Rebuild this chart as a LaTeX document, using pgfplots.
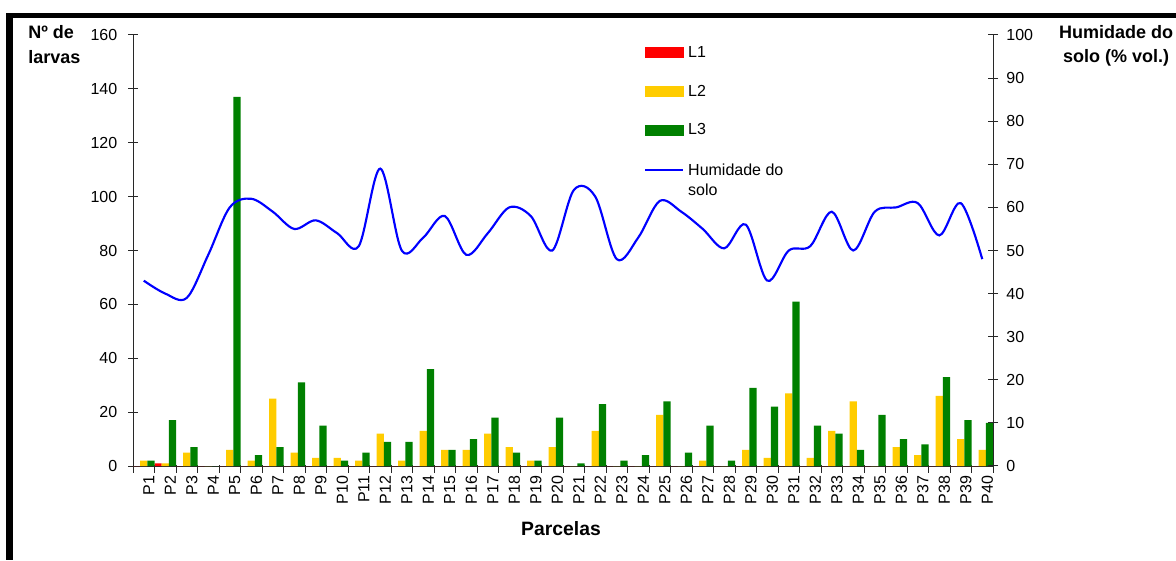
\documentclass[border=0pt]{standalone}
\usepackage{fontspec}
\setmainfont{Liberation Sans}
\usepackage{pgfplots}
\usepackage{pgfplotstable}
\pgfplotsset{compat=1.18}
\definecolor{cL1}{RGB}{255,0,0}
\definecolor{cL2}{RGB}{255,204,0}
\definecolor{cL3}{RGB}{0,128,0}
\definecolor{cH}{RGB}{0,0,255}
\definecolor{axc}{RGB}{40,40,40}

\pgfplotstableread{
x L1 L2 L3
1 0 2 2
2 1 1 17
3 0 5 7
4 0 0 0
5 0 6 137
6 0 2 4
7 0 25 7
8 0 5 31
9 0 3 15
10 0 3 2
11 0 2 5
12 0 12 9
13 0 2 9
14 0 13 36
15 0 6 6
16 0 6 10
17 0 12 18
18 0 7 5
19 0 2 2
20 0 7 18
21 0 0 1
22 0 13 23
23 0 0 2
24 0 0 4
25 0 19 24
26 0 0 5
27 0 2 15
28 0 0 2
29 0 6 29
30 0 3 22
31 0 27 61
32 0 3 15
33 0 13 12
34 0 24 6
35 0 0 19
36 0 7 10
37 0 4 8
38 0 26 33
39 0 10 17
40 0 6 16
}\bars

\pgfplotstableread{
x H
1 43
2 40
3 39
4 49
5 60
6 62
7 59
8 55
9 57
10 54
11 51
12 69
13 50
14 53
15 58
16 49
17 54
18 60
19 58
20 50
21 64
22 62.5
23 48
24 53
25 61.5
26 59
27 55
28 50.5
29 56
30 43
31 50
32 51
33 59
34 50
35 59
36 60
37 61
38 53.5
39 61
40 48
}\hum

\begin{document}
\begin{tikzpicture}[x=0.75pt,y=0.75pt]
\useasboundingbox (0,0) rectangle (1176,560);
\fill[white] (0,0) rectangle (1176,560);
\fill[black] (6,0) rectangle (12.7,547);
\fill[black] (6,542) rectangle (1176,547);

\begin{axis}[
  at={(99.75pt,70.5pt)}, anchor=south west,
  scale only axis, width=645pt, height=323.25pt,
  xmin=0.5, xmax=40.5, ymin=0, ymax=160,
  enlargelimits=false,
  axis x line*=bottom, axis y line*=left,
  axis line style={-, draw=axc, line width=0.75pt},
  ybar=0pt, bar width=5.375pt,
  xtick={1,...,40},
  xticklabels={P1,P2,P3,P4,P5,P6,P7,P8,P9,P10,P11,P12,P13,P14,P15,P16,P17,P18,P19,P20,P21,P22,P23,P24,P25,P26,P27,P28,P29,P30,P31,P32,P33,P34,P35,P36,P37,P38,P39,P40},
  major x tick style={draw=none},
  minor xtick={0.5,1.5,...,40.5},
  minor x tick style={draw=axc, line width=0.75pt, yshift=-2pt},
  minor tick length=6pt,
  ytick={0,20,...,160},
  major tick length=7.5pt,
  tick align=center,
  ytick style={draw=axc, line width=0.75pt},
  /pgf/number format/assume math mode=true,
  ticklabel style={font=\fontsize{12}{13}\selectfont},
  xticklabel style={rotate=90, anchor=east, yshift=-3.75pt},
  yticklabel style={xshift=-4.5pt},
  clip=false,
]
\addplot[fill=cL1, draw=none] table[x=x,y=L1]{\bars};
\addplot[fill=cL2, draw=none] table[x=x,y=L2]{\bars};
\addplot[fill=cL3, draw=none] table[x=x,y=L3]{\bars};
\end{axis}

\begin{axis}[
  at={(99.75pt,70.5pt)}, anchor=south west,
  scale only axis, width=645pt, height=323.25pt,
  xmin=0.5, xmax=40.5, ymin=0, ymax=100,
  enlargelimits=false,
  axis x line=none, axis y line*=right,
  axis line style={-, draw=axc, line width=0.75pt},
  ytick={0,10,...,100},
  major tick length=7.5pt,
  tick align=center,
  ytick style={draw=axc, line width=0.75pt},
  /pgf/number format/assume math mode=true,
  ticklabel style={font=\fontsize{12}{13}\selectfont},
  yticklabel style={xshift=2.75pt},
  clip=false,
  legend cell align=left,
  legend style={draw=none, fill=none, at={(axis description cs:0.5941,0.9745)}, anchor=north west,
    inner sep=0pt, row sep=19.2pt, column sep=3pt,
    nodes={inner sep=0pt}, font=\fontsize{12}{14.5}\selectfont},
]
\addlegendimage{legend image code/.code={\fill[cL1] (0pt,-3.75pt) rectangle (28.5pt,3.75pt);}}
\addlegendentry{L1}
\addlegendimage{legend image code/.code={\fill[cL2] (0pt,-3.75pt) rectangle (28.5pt,3.75pt);}}
\addlegendentry{L2}
\addlegendimage{legend image code/.code={\fill[cL3] (0pt,-3.75pt) rectangle (28.5pt,3.75pt);}}
\addlegendentry{L3}
\addplot[cH, line width=1.6pt, smooth, tension=0.55,
  legend image code/.code={\draw[cH, line width=1.5pt] (0pt,0pt)--(28.5pt,0pt);}]
  table[x=x,y=H]{\hum};
\addlegendentry{\begin{tabular}[t]{@{}l@{}}Humidade do\\solo\end{tabular}}
\end{axis}

\node[anchor=base west, font=\bfseries\fontsize{13.5}{15}\selectfont, inner sep=0pt] at (28,521) {Nº de};
\node[anchor=base west, font=\bfseries\fontsize{13.5}{15}\selectfont, inner sep=0pt] at (28,496) {larvas};
\node[anchor=base, font=\bfseries\fontsize{13.5}{15}\selectfont, inner sep=0pt] at (1116,521) {Humidade do};
\node[anchor=base, font=\bfseries\fontsize{13.5}{15}\selectfont, inner sep=0pt] at (1116,497) {solo (\% vol.)};
\node[anchor=base, font=\bfseries\fontsize{14.5}{16}\selectfont, inner sep=0pt] at (561,25) {Parcelas};
\end{tikzpicture}
\end{document}
